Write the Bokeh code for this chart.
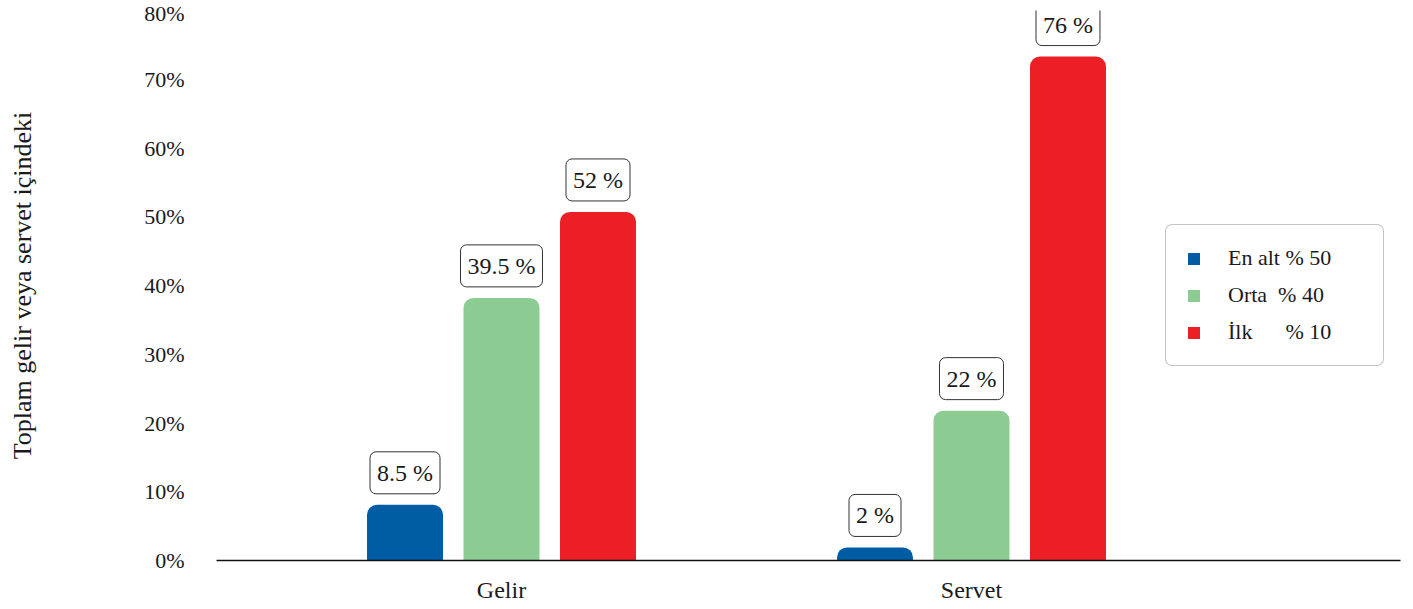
from bokeh.plotting import figure
from bokeh.models import (ColumnDataSource, FixedTicker, Legend, LegendItem,
                          PrintfTickFormatter)
from bokeh.core.properties import value
from bokeh.embed import file_html
from bokeh.resources import INLINE

# ---- data ----
categories = ["Gelir", "Servet"]
groups = ["En alt % 50", "Orta  % 40", "İlk      % 10"]
colors = ["#005DA3", "#8CCB92", "#EC1F26"]
bottom50 = [8.1, 1.9]
middle40 = [38.2, 21.8]
top10 = [50.7, 73.3]
label_bottom50 = ["8.5 %", "2 %"]
label_middle40 = ["39.5 %", "22 %"]
label_top10 = ["52 %", "76 %"]
y_ticks = [0, 10, 20, 30, 40, 50, 60, 70, 80]
y_axis_title = "Toplam gelir veya servet içindeki"

FONT = "Liberation Serif"
series = [bottom50, middle40, top10]
series_labels = [label_bottom50, label_middle40, label_top10]
offsets = [-0.2053, 0.0, 0.2053]
bar_width = 0.1617

p = figure(width=1405, height=605, x_range=(-0.6064, 1.9128), y_range=(0, 80),
           output_backend="svg", toolbar_location=None,
           min_border_left=216, min_border_right=5, min_border_top=10,
           min_border_bottom=44)
p.outline_line_color = None
p.xgrid.grid_line_color = None
p.ygrid.grid_line_color = None
p.background_fill_color = "white"
p.border_fill_color = "white"

renderers = []
lx, ly, lt = [], [], []
for vals, labs, off, col in zip(series, series_labels, offsets, colors):
    xs = [i + off for i in range(len(categories))]
    src = ColumnDataSource(dict(x=xs, top=vals))
    r = p.vbar(x="x", top="top", width=bar_width, source=src, fill_color=col,
               line_color=None, border_radius=(10, 10, 0, 0))
    renderers.append(r)
    lx += xs
    ly += vals
    lt += labs

lsrc = ColumnDataSource(dict(x=lx, y=ly, text=lt))
p.text(x="x", y="y", text="text", source=lsrc, text_font=value(FONT),
       text_font_size="24px", text_color="#1a1a1a", text_align="center",
       text_baseline="bottom", y_offset=-11, background_fill_color="white",
       border_line_color="#333333", border_line_width=1, border_radius=6,
       padding=dict(left=7, right=7, top=8, bottom=8))

# axes
p.xaxis.ticker = FixedTicker(ticks=list(range(len(categories))))
p.xaxis.major_label_overrides = {i: c for i, c in enumerate(categories)}
p.xaxis.major_tick_line_color = None
p.xaxis.minor_tick_line_color = None
p.xaxis.major_label_standoff = 10
p.xaxis.axis_line_color = "#111111"
p.xaxis.axis_line_width = 1.3
p.xaxis.major_label_text_font = FONT
p.xaxis.major_label_text_font_size = "24px"
p.xaxis.major_label_text_color = "#1a1a1a"

p.yaxis.ticker = FixedTicker(ticks=y_ticks)
p.yaxis.formatter = PrintfTickFormatter(format="%d%%")
p.yaxis.axis_line_color = None
p.yaxis.major_tick_line_color = None
p.yaxis.minor_tick_line_color = None
p.yaxis.major_label_standoff = 26
p.yaxis.major_label_text_font = FONT
p.yaxis.major_label_text_font_size = "22px"
p.yaxis.major_label_text_color = "#1a1a1a"
p.yaxis.axis_label = y_axis_title
p.yaxis.axis_label_text_font = FONT
p.yaxis.axis_label_text_font_size = "26px"
p.yaxis.axis_label_text_font_style = "normal"
p.yaxis.axis_label_text_color = "#1a1a1a"
p.yaxis.axis_label_standoff = 104

legend = Legend(items=[LegendItem(label=g, renderers=[r]) for g, r in zip(groups, renderers)],
                location=(949, 194))
legend.border_line_color = "#8a8a8a"
legend.border_line_width = 1
legend.background_fill_color = "white"
legend.padding = 20
legend.margin = 0
legend.spacing = 11
legend.label_height = 22
legend.glyph_height = 15
legend.glyph_width = 15
legend.label_standoff = 27
legend.label_width = 135
legend.label_text_font = FONT
legend.label_text_font_size = "22px"
legend.label_text_color = "#1a1a1a"
if "border_radius" in legend.properties():
    legend.border_radius = 7
p.add_layout(legend)

open("out.html", "w").write(file_html(p, INLINE))
